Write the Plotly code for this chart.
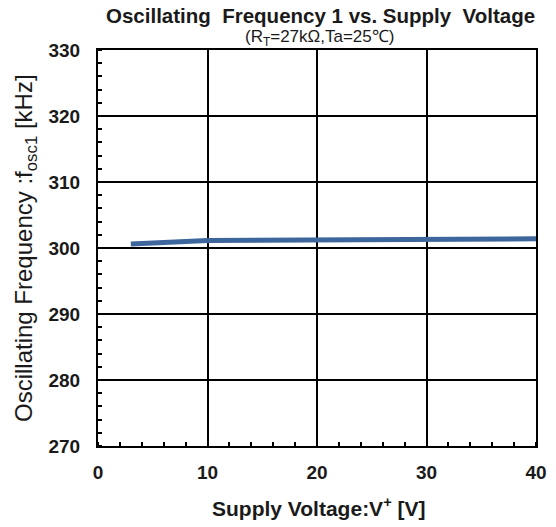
import plotly.graph_objects as go

voltage = [3, 4, 5, 6, 8, 10, 15, 20, 25, 30, 35, 40]
freq = [300.6, 300.65, 300.75, 300.85, 301.0, 301.15, 301.2, 301.25, 301.3, 301.35, 301.4, 301.4]

x_ticks = [0, 10, 20, 30, 40]
y_ticks = [270, 280, 290, 300, 310, 320, 330]

FONT = "Liberation Sans, Arial, sans-serif"
TXT = "#1a1a1a"

fig = go.Figure()
fig.add_trace(go.Scatter(x=voltage, y=freq, mode="lines",
                         line=dict(color="#3d669c", width=5), showlegend=False))

axis_common = dict(
    showline=True, linecolor="black", linewidth=2, mirror=True,
    showgrid=True, gridcolor="black", gridwidth=2,
    ticks="", zeroline=False, automargin=False,
    tickfont=dict(family=FONT, size=19, color=TXT),
)
minor = dict(dtick=2, ticks="inside", ticklen=4, tickwidth=2,
             tickcolor="black", showgrid=False)

fig.update_xaxes(range=[0, 40], tickvals=x_ticks,
                 ticktext=[f"<b>{v}</b>" for v in x_ticks], **axis_common,
                 minor=minor, ticklabelstandoff=8)
fig.update_yaxes(range=[270, 330], tickvals=y_ticks,
                 ticktext=[f"<b>{v}</b>" for v in y_ticks], **axis_common,
                 minor=minor, ticklabelstandoff=12)

fig.add_annotation(text="<b>Supply Voltage:V<sup>+</sup> [V]</b>",
                   xref="paper", yref="paper", x=0.5, y=0, yshift=-61, xshift=2,
                   showarrow=False, font=dict(family=FONT, size=21, color=TXT),
                   xanchor="center", yanchor="middle")
fig.add_annotation(text="Oscillating Frequency :f<sub>osc1</sub> [kHz]",
                   xref="paper", yref="paper", x=0, y=0.5, xshift=-73,
                   textangle=-90, showarrow=False,
                   font=dict(family=FONT, size=24, color=TXT),
                   xanchor="center", yanchor="middle")
fig.add_annotation(text="<b>Oscillating  Frequency 1 vs. Supply  Voltage</b>",
                   xref="paper", yref="paper", x=0.5, y=1, yshift=35, xshift=3,
                   showarrow=False, font=dict(family=FONT, size=20.5, color=TXT),
                   xanchor="center", yanchor="middle")
fig.add_annotation(text="(R<sub>T</sub>=27kΩ,Ta=25℃)",
                   xref="paper", yref="paper", x=0.5, y=1, yshift=12, xshift=2,
                   showarrow=False, font=dict(family=FONT, size=17, color=TXT),
                   xanchor="center", yanchor="middle")

fig.update_layout(
    width=556, height=527,
    margin=dict(l=98, r=20, t=50, b=81),
    paper_bgcolor="white", plot_bgcolor="white",
    font=dict(family=FONT, color=TXT, size=17),
)
fig.write_html("out.html", config={"displayModeBar": False},
               post_script="document.body.style.margin='0';")
